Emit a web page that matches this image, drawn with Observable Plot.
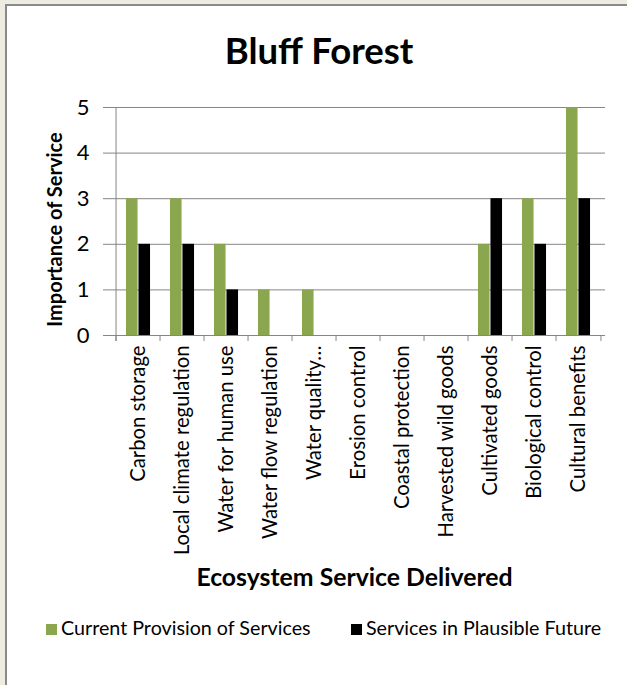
<!DOCTYPE html>
<html><head><meta charset="utf-8">
<script src="https://cdn.jsdelivr.net/npm/d3@7"></script>
<script src="https://cdn.jsdelivr.net/npm/@observablehq/plot@0.6"></script>
<style>
html,body{margin:0;padding:0;background:#EEECE1;width:627px;height:685px;overflow:hidden;font-family:Lato,sans-serif;}
#frame{position:absolute;left:5px;top:4px;width:700px;height:700px;background:#fff;border-left:2px solid #8a8a8a;border-top:2px solid #8a8a8a;}
#title{position:absolute;left:0;width:638px;top:29px;text-align:center;font-weight:bold;font-size:36.5px;line-height:42px;color:#000;}
#chart{position:absolute;left:7px;top:80px;}
.leg{position:absolute;top:617px;height:22px;line-height:22px;font-size:19.7px;color:#000;white-space:nowrap;}
.sw{display:inline-block;width:11px;height:11px;margin-right:4px;vertical-align:0px;}
</style></head>
<body>
<div id="frame"></div>
<div id="title">Bluff Forest</div>
<div id="chart"></div>
<div class="leg" id="leg1" style="left:46px"></div>
<div class="leg" id="leg2" style="left:351px"></div>
<script>
const categories = ["Carbon storage","Local climate regulation","Water for human use","Water flow regulation","Water quality…","Erosion control","Coastal protection","Harvested wild goods","Cultivated goods","Biological control","Cultural benefits"];
const currentValues = [3,3,2,1,1,0,0,0,2,3,5];
const futureValues  = [2,2,1,0,0,0,0,0,3,2,3];
const yTicks = [0,1,2,3,4,5];
const seriesNames = ["Current Provision of Services","Services in Plausible Future"];
const seriesColors = ["#8AA64F","#000000"];

const W = 620, H = 520, mL = 104, mR = 22, mT = 27, mB = 265;
const bw = (W - mL - mR) / categories.length;
const barW = bw * 0.278;
const edge = (bw - 2 * barW) / 2;
const grid = "#868686";

const cur = categories.map((c, i) => ({cat: c, value: currentValues[i]}));
const fut = categories.map((c, i) => ({cat: c, value: futureValues[i]}));

const plot = Plot.plot({
  width: W, height: H,
  marginLeft: mL, marginRight: mR, marginTop: mT, marginBottom: mB,
  style: {fontFamily: "Lato, sans-serif", color: "#000", background: "transparent"},
  x: {type: "band", domain: categories, padding: 0},
  y: {domain: [0, 5]},
  marks: [
    Plot.ruleY(yTicks, {y: d => d, stroke: grid, strokeWidth: 1}),
    Plot.barY(cur, {x: "cat", y: "value", fill: seriesColors[0], insetLeft: edge, insetRight: edge + barW}),
    Plot.barY(fut, {x: "cat", y: "value", fill: seriesColors[1], insetLeft: edge + barW, insetRight: edge}),
    Plot.ruleX([categories[0]], {x: d => d, y1: 5, y2: 0, dx: -bw / 2, insetBottom: -6, stroke: grid}),
    Plot.ruleX(categories, {x: d => d, y1: 0, y2: 0, dx: -bw / 2, insetBottom: -6, stroke: grid}),
    Plot.ruleX([categories[categories.length - 1]], {x: d => d, y1: 0, y2: 0, dx: bw / 2, insetBottom: -6, stroke: grid}),
    Plot.axisY({ticks: yTicks, tickSize: 8, tickPadding: 14, tickFormat: d3.format("d"), fontSize: 22, stroke: grid, fill: "#000", label: null}),
    Plot.axisX({tickSize: 0, tickRotate: -90, tickPadding: 10, fontSize: 20.3, fill: "#000", label: null}),
    Plot.text(["Importance of Service"], {text: d => d, frameAnchor: "left", textAnchor: "middle", rotate: -90, dx: -56, dy: 8, fontSize: 20, fontWeight: "bold", fill: "#000"}),
    Plot.text(["Ecosystem Service Delivered"], {text: d => d, frameAnchor: "bottom", dy: 243, dx: -4, lineAnchor: "middle", fontSize: 24.8, fontWeight: "bold", fill: "#000"})
  ]
});
document.getElementById("chart").appendChild(plot);

["leg1","leg2"].forEach((id, i) => {
  const el = document.getElementById(id);
  const sw = document.createElement("span");
  sw.className = "sw";
  sw.style.background = seriesColors[i];
  el.appendChild(sw);
  el.appendChild(document.createTextNode(seriesNames[i]));
});
</script>
</body></html>
